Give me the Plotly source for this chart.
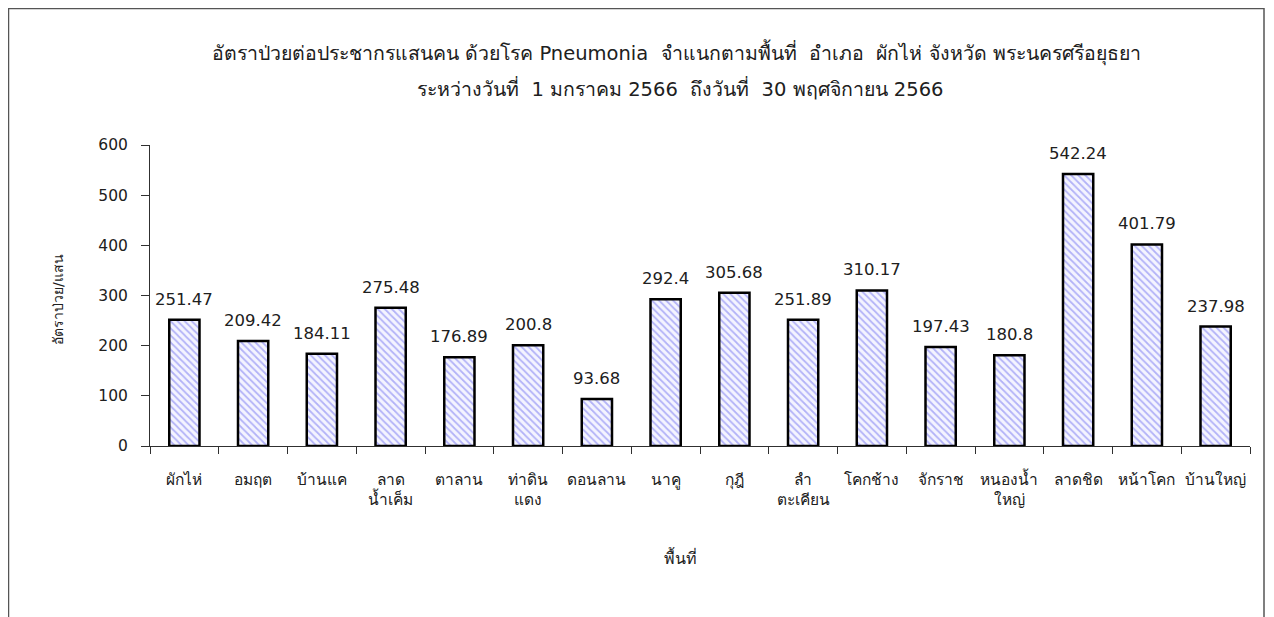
import plotly.graph_objects as go

# data
areas = ["ผักไห่", "อมฤต", "บ้านแค", "ลาด<br>น้ำเค็ม", "ตาลาน", "ท่าดิน<br>แดง", "ดอนลาน",
         "นาคู", "กุฎี", "ลำ<br>ตะเคียน", "โคกช้าง", "จักราช", "หนองน้ำ<br>ใหญ่",
         "ลาดชิด", "หน้าโคก", "บ้านใหญ่"]
rates = [251.47, 209.42, 184.11, 275.48, 176.89, 200.8, 93.68, 292.4, 305.68,
         251.89, 310.17, 197.43, 180.8, 542.24, 401.79, 237.98]
labels = ["251.47", "209.42", "184.11", "275.48", "176.89", "200.8", "93.68", "292.4",
          "305.68", "251.89", "310.17", "197.43", "180.8", "542.24", "401.79", "237.98"]

title_1 = "อัตราป่วยต่อประชากรแสนคน ด้วยโรค Pneumonia  จำแนกตามพื้นที่  อำเภอ  ผักไห่ จังหวัด พระนครศรีอยุธยา"
title_2 = "ระหว่างวันที่  1 มกราคม 2566  ถึงวันที่  30 พฤศจิกายน 2566"
x_title = "พื้นที่"
y_title = "อัตราป่วย/แสน"

# graph variables (page adds 8px around the figure, so keep it inside the window)
W, H = 1266, 609
MARGIN = {"l": 142, "r": 24, "t": 137, "b": 171}
FONT = "Tahoma, 'DejaVu Sans', 'Noto Sans', sans-serif"
TEXT_COLOUR = "#202020"
AXIS_COLOUR = "#303030"


# pixel (figure coords) -> paper coords
def px(xp):
    return (xp - MARGIN["l"]) / (W - MARGIN["l"] - MARGIN["r"])


def py(yp):
    return (H - MARGIN["b"] - yp) / (H - MARGIN["t"] - MARGIN["b"])


fig = go.Figure()

fig.add_trace(go.Bar(
    x=areas, y=rates, width=0.44,
    marker=dict(color="#eeeeff",
                line=dict(color="black", width=2.5),
                pattern=dict(shape="\\", fgcolor="#7070f0", bgcolor="#f4f4ff",
                             size=5, solidity=0.35)),
    hoverinfo="x+y"))

# value labels above the bars
for a, v, t in zip(areas, rates, labels):
    fig.add_annotation(x=a, y=v, text=t, showarrow=False, yanchor="bottom",
                       yshift=9, font=dict(size=16.5, color=TEXT_COLOUR))

# titles
fig.add_annotation(xref="paper", yref="paper", x=px(668), y=py(44), text=title_1,
                   showarrow=False, xanchor="center", yanchor="middle",
                   font=dict(size=19.5, color=TEXT_COLOUR))
fig.add_annotation(xref="paper", yref="paper", x=px(672), y=py(80), text=title_2,
                   showarrow=False, xanchor="center", yanchor="middle",
                   font=dict(size=19.5, color=TEXT_COLOUR))
fig.add_annotation(xref="paper", yref="paper", x=px(672), y=py(549), text=x_title,
                   showarrow=False, xanchor="center", yanchor="middle",
                   font=dict(size=16, color=TEXT_COLOUR))
fig.add_annotation(xref="paper", yref="paper", x=px(50), y=py(292), text=y_title,
                   showarrow=False, xanchor="center", yanchor="middle", textangle=-90,
                   font=dict(size=14, color=TEXT_COLOUR))

# outer frame (bottom edge runs off the picture)
fig.add_shape(type="rect", xref="paper", yref="paper",
              x0=px(0.5), x1=px(1256), y0=py(640), y1=py(0.5),
              line=dict(color="#555555", width=1.5), fillcolor="rgba(0,0,0,0)", layer="below")

fig.update_layout(
    width=W, height=H, margin=MARGIN,
    plot_bgcolor="white", paper_bgcolor="white", showlegend=False,
    font=dict(family=FONT, size=15, color=TEXT_COLOUR),
    xaxis=dict(showline=True, linecolor=AXIS_COLOUR, linewidth=1,
               ticks="outside", tickson="boundaries", ticklen=7, tickcolor=AXIS_COLOUR,
               ticklabelstandoff=19, tickangle=0, tickfont=dict(size=15.5)),
    yaxis=dict(range=[0, 600], dtick=100, showline=True, linecolor=AXIS_COLOUR, linewidth=1,
               ticks="outside", ticklen=8, tickcolor=AXIS_COLOUR, showgrid=False,
               zeroline=False, tickfont=dict(size=15.5), ticklabelstandoff=10),
)

fig.write_html("out.html")
